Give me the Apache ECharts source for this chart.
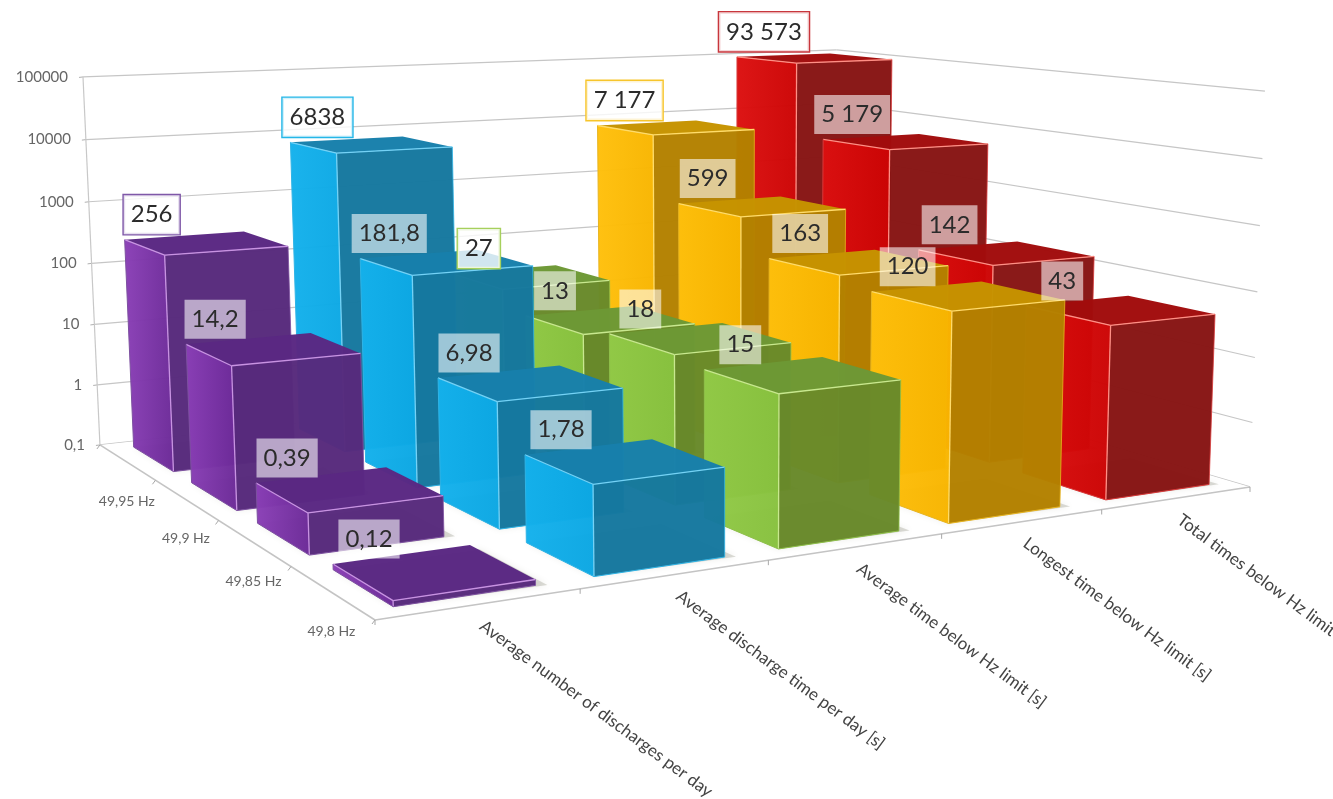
<!DOCTYPE html>
<html><head><meta charset="utf-8">
<style>html,body{margin:0;padding:0;background:#fff}#c{width:1333px;height:799px}</style>
<script src="https://cdn.jsdelivr.net/npm/echarts@6/dist/echarts.min.js"></script>
</head><body><div id="c"></div>
<script>
const categories=['Average number of discharges per day','Average discharge time per day [s]','Average time below Hz limit [s]','Longest time below Hz limit [s]','Total times below Hz limit'];
const rowLabels=['49,95 Hz','49,9 Hz','49,85 Hz','49,8 Hz'];
const tickValues=[0.1,1,10,100,1000,10000,100000];
const tickLabels=['0,1','1','10','100','1000','10000','100000'];
const dischargesPerDay=[256,14.2,0.39,0.12];
const dischargeTime=[6838,181.8,6.98,1.78];
const averageTime=[27,13,18,15];
const longestTime=[7177,599,163,120];
const totalTime=[93573,5179,142,43];
const dischargesText=['256','14,2','0,39','0,12'];
const dischargeTimeText=['6838','181,8','6,98','1,78'];
const averageTimeText=['27','13','18','15'];
const longestTimeText=['7 177','599','163','120'];
const totalTimeText=['93 573','5 179','142','43'];

const values=[dischargesPerDay,dischargeTime,averageTime,longestTime,totalTime];
const texts=[dischargesText,dischargeTimeText,averageTimeText,longestTimeText,totalTimeText];
const palette=[
 {l:['#8a3fb6','#6c2a98'],r:'#572a7c',t:'#5a2883',e:'#c893e2',b:'#7d51a0',box:'#7f58a8'},
 {l:['#14b1ec','#0ca8e4'],r:'#16789f',t:'#177fab',e:'#74d2f6',b:'#2fb4e6',box:'#25b7e8'},
 {l:['#92ca47','#88c23f'],r:'#68892a',t:'#6d9835',e:'#c8e88f',b:'#8fc04a',box:'#a6d05c'},
 {l:['#ffc00c','#f8b500'],r:'#b38100',t:'#c69300',e:'#ffdc6a',b:'#e8b520',box:'#f7c52c'},
 {l:['#dc1010','#cc0404'],r:'#871413',t:'#a10c0c',e:'#ff8f85',b:'#d83a3a',box:'#c8363c'}
];
const rowCount=rowLabels.length, catCount=categories.length;
const G={w:1000,h:600};
const labelShiftByRow=[27,29,31,36];

// perspective camera: floor (u across categories, v front to back) and height
const M={x:[375,231.25,-60.8,-25.2],y:[620,-4.7,-8.3,-488],w:[1,0.045,0.0797,-0.0344]};
function proj(u,v,h){
  const w=M.w[0]+M.w[1]*u+M.w[2]*v+M.w[3]*h;
  return [(M.x[0]+M.x[1]*u+M.x[2]*v+M.x[3]*h)/w,(M.y[0]+M.y[1]*u+M.y[2]*v+M.y[3]*h)/w];
}
const heightOf=(api,val)=>1-api.coord([0,val])[1]/G.h;
const centreU=(api,i)=>api.coord([i,0.1])[0]/G.w*catCount;
const FONT='Lato, "Open Sans", sans-serif';

const barData=[];
for(let r=0;r<rowCount;r++)for(let c=catCount-1;c>=0;c--)barData.push([c,r,values[c][r],texts[c][r]]);

function line(a,b,color,width){return {type:'line',shape:{x1:a[0],y1:a[1],x2:b[0],y2:b[1]},style:{stroke:color,lineWidth:width},silent:true};}

function renderGrid(params,api){
  const val=api.value(1), h=heightOf(api,val), idx=params.dataIndex;
  const A=proj(0,rowCount,h),D=proj(catCount,rowCount,h),C=proj(catCount,0,h);
  const kids=[line(A,D,'#c6c6c6',1.2),line(D,C,'#c6c6c6',1.2),line([A[0]-4,A[1]+0.5],A,'#b0b0b0',1)];
  kids.push({type:'text',x:A[0]-15,y:A[1],style:{text:tickLabels[idx],fill:'#666',font:'15px '+FONT,align:'right',verticalAlign:'middle'}});
  return {type:'group',children:kids};
}
function renderFloor(params,api){
  const top=heightOf(api,tickValues[tickValues.length-1]);
  const B=proj(0,0,0),C=proj(catCount,0,0),A=proj(0,rowCount,0),D=proj(catCount,rowCount,0);
  const kids=[
    {type:'polygon',shape:{points:[B,C,D,A]},style:{fill:'#ffffff'}},
    line(proj(0,rowCount,0),proj(0,rowCount,top),'#c8c8c8',1.2),
    line(A,B,'#c4c4c4',1.6),line(B,C,'#c4c4c4',1.6)
  ];
  for(let i=0;i<=catCount;i++){const p=proj(i,0,0);kids.push(line(p,[p[0],p[1]+5],'#a8a8a8',1));}
  for(let j=0;j<=rowCount;j++){const p=proj(0,j,0);kids.push(line(p,[p[0]-3,p[1]+4],'#a8a8a8',1));}
  rowLabels.forEach((t,j)=>{
    const p=proj(0,rowCount-j-0.5,0);
    kids.push({type:'text',x:p[0],y:p[1]+39,style:{text:t,fill:'#666',font:'14px '+FONT,align:'center',verticalAlign:'middle'}});
  });
  categories.forEach((t,i)=>{
    const p=proj(i+0.5,0,0);
    kids.push({type:'text',x:p[0]+2,y:p[1]+20,rotation:-36.5*Math.PI/180,style:{text:t,fill:'#444',font:'17px '+FONT,align:'left',verticalAlign:'middle'}});
  });
  return {type:'group',children:kids};
}
function renderBar(params,api){
  const c=api.value(0),r=api.value(1),val=api.value(2),pal=palette[c];
  const mid=centreU(api,c),u0=mid-0.35,u1=mid+0.35,v0=rowCount-1-r+0.15,v1=v0+0.7,h=heightOf(api,val);
  const b00=proj(u0,v0,0),b10=proj(u1,v0,0),b01=proj(u0,v1,0);
  const t00=proj(u0,v0,h),t10=proj(u1,v0,h),t01=proj(u0,v1,h),t11=proj(u1,v1,h);
  const shade=proj(u1+0.05,v0-0.02,0),shade2=proj(u1+0.05,v1,0);
  const grad=new echarts.graphic.LinearGradient(0,0,1,0,[{offset:0,color:pal.l[0]},{offset:1,color:pal.l[1]}]);
  return {type:'group',children:[
    {type:'polygon',shape:{points:[b00,shade,shade2,b01]},style:{fill:'rgba(130,130,110,0.28)',shadowBlur:6,shadowColor:'rgba(130,130,110,0.5)'},silent:true},
    {type:'polygon',shape:{points:[b01,b00,t00,t01]},style:{fill:grad,opacity:0.975}},
    {type:'polygon',shape:{points:[b00,b10,t10,t00]},style:{fill:pal.r,opacity:0.975}},
    {type:'polygon',shape:{points:[t00,t10,t11,t01]},style:{fill:pal.t,opacity:0.98}},
    line(t01,t00,pal.e,1.3),line(t00,t10,pal.e,1.3),line(t00,b00,pal.e,1.3),
    line(t01,b01,pal.b,1),line(t10,b10,pal.b,0.8),
    line(b01,b00,pal.b,1),line(b00,b10,pal.b,1)
  ]};
}
function renderLabel(params,api){
  const c=api.value(0),r=api.value(1),val=api.value(2),pal=palette[c],text=api.value(3);
  const mid=centreU(api,c),p=proj(mid-0.35,rowCount-1-r+0.85,heightOf(api,val));
  const back=r===0;
  return {type:'text',x:p[0]+labelShiftByRow[r],y:p[1]-25,z2:10,style:{text:String(text),fill:'#2b2b2b',font:'24px '+FONT,align:'center',verticalAlign:'middle',
    backgroundColor:back?'rgba(255,255,255,0.8)':'rgba(255,255,255,0.58)',
    borderColor:back?pal.box:'transparent',
    borderWidth:back?1.4:0,padding:[8,7,7,7]}};
}
const chart=echarts.init(document.getElementById('c'),null,{renderer:'canvas'});
chart.setOption({
  animation:false,backgroundColor:'#fff',
  grid:{left:0,top:0,width:G.w,height:G.h,show:false},
  xAxis:{type:'category',data:categories,show:false},
  yAxis:{type:'log',logBase:10,min:0.1,max:100000,show:false},
  tooltip:{show:false},
  series:[
    {type:'custom',name:'walls',z:1,data:tickValues.map((t,i)=>[0,t]),encode:{x:0,y:1},renderItem:renderGrid,silent:true},
    {type:'custom',name:'floor',z:2,data:[[0,0.1]],encode:{x:0,y:1},renderItem:renderFloor,silent:true},
    {type:'custom',name:'bars',z:3,data:barData,encode:{x:0,y:2},dimensions:['c','r','v',{name:'t',type:'ordinal'}],renderItem:renderBar,silent:true},
    {type:'custom',name:'labels',z:4,data:barData,encode:{x:0,y:2},dimensions:['c','r','v',{name:'t',type:'ordinal'}],renderItem:renderLabel,silent:true}
  ]
});
</script></body></html>
